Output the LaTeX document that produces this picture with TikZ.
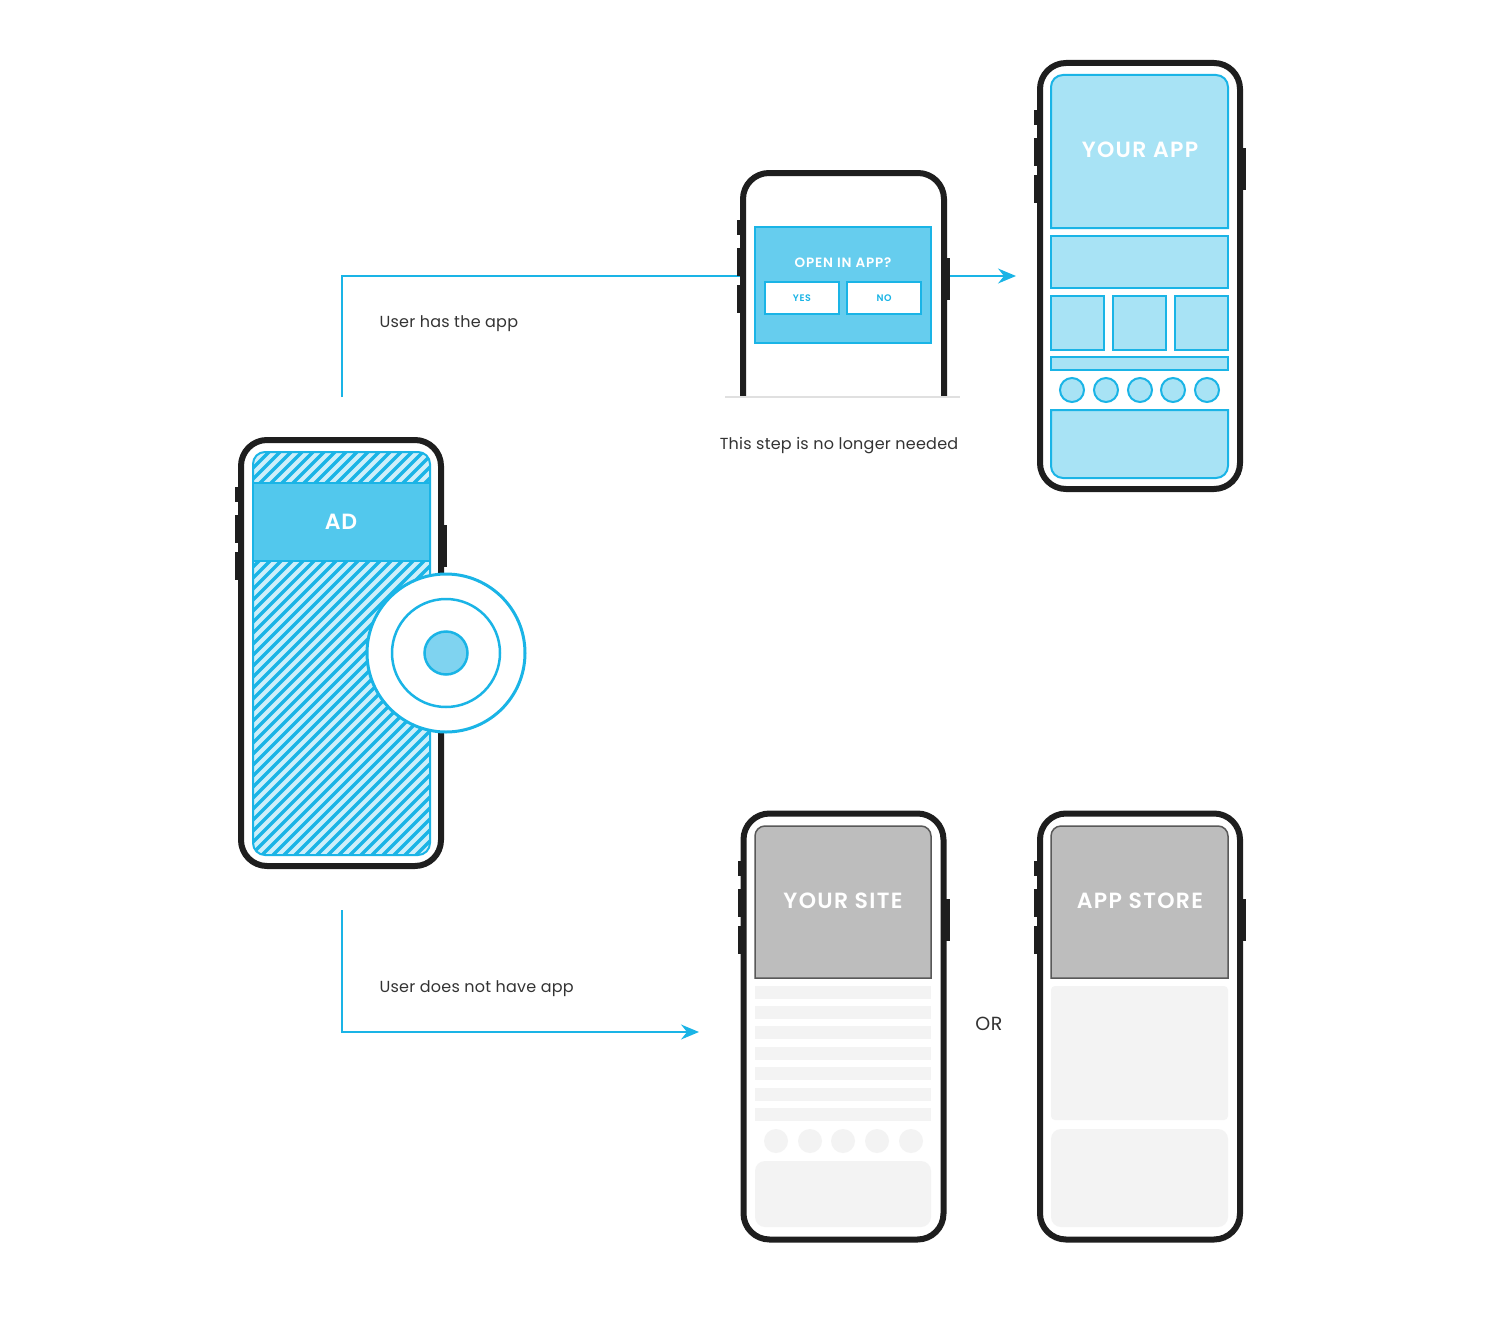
\documentclass[tikz,border=0pt]{standalone}
\usepackage{fontspec}
\setmainfont{Poppins}[BoldFont={Poppins SemiBold}]
\usetikzlibrary{arrows.meta}

\definecolor{phoneblack}{HTML}{1E1E1E}
\definecolor{adblue}{HTML}{1AB4E6}
\definecolor{bandblue}{HTML}{52C8ED}
\definecolor{popblue}{HTML}{66CDEE}
\definecolor{paleblue}{HTML}{A8E3F5}
\definecolor{hatchbg}{HTML}{CDEFFA}
\definecolor{dotblue}{HTML}{7FD3F0}
\definecolor{sitegray}{HTML}{BDBDBD}
\definecolor{ghost}{HTML}{F3F3F3}
\definecolor{labelgray}{HTML}{333333}

\tikzset{
  phonebody/.style={draw=phoneblack, line width=6pt, rounded corners=26pt, fill=white,
    minimum width=200pt, minimum height=426pt, inner sep=0pt},
  flow/.style={draw=adblue, line width=1.6pt, -{Stealth[length=18pt,width=15pt,inset=6pt]}},
  appblock/.style={draw=adblue, line width=2pt, fill=paleblue},
  siteblock/.style={draw=black!65, line width=1.5pt, fill=sitegray},
  ghostblock/.style={fill=ghost},
  caption/.style={text=labelgray, font=\fontsize{16}{19}\selectfont\addfontfeatures{LetterSpace=1.5}},
  screentitle/.style={text=white, font=\fontsize{22}{25}\selectfont\bfseries\addfontfeatures{LetterSpace=6}}
}

% side keys of a phone
\newcommand{\phonekeys}[1]{
  \fill[phoneblack] ([xshift=-3pt,yshift=-50pt]#1.north west) rectangle ++(4pt,-15pt);
  \fill[phoneblack] ([xshift=-3pt,yshift=-78pt]#1.north west) rectangle ++(4pt,-28pt);
  \fill[phoneblack] ([xshift=-3pt,yshift=-115pt]#1.north west) rectangle ++(4pt,-28pt);
  \fill[phoneblack] ([xshift=3pt,yshift=-88pt]#1.north east) rectangle ++(-4pt,-42pt);
}

\begin{document}
\begin{tikzpicture}[x=1pt,y=-1pt]
\useasboundingbox (0,0) rectangle (1505,1322);

% connectors
\coordinate (hasstart) at (342,397);
\coordinate (hasend) at (1016,276);
\coordinate (notstart) at (342,910);
\coordinate (notend) at (699,1032);
\draw[flow] (hasstart) |- (hasend);
\draw[flow] (notstart) |- (notend);

\node[caption, anchor=west] (haslabel) at (376,324) {User has the app};
\node[caption, anchor=west] (notlabel) at (376,989) {User does not have app};
\node[caption] (steplabel) at (839,446) {This step is no longer needed};
\node[caption, font=\fontsize{19}{22}\selectfont\addfontfeatures{LetterSpace=3}] (orlabel) at (989,1024) {OR};

% phone with the ad
\node[phonebody] (adphone) at (341,653) {};
\phonekeys{adphone}
\begin{scope}
  \clip[rounded corners=12pt] (253,452) rectangle (430,855);
  \fill[hatchbg] (253,452) rectangle (430,855);
  \foreach \k in {0,...,56}
    \draw[adblue, line width=3.5pt] (\k*11-170,858) -- ++(425,-425);
\end{scope}
\draw[adblue, line width=2pt, rounded corners=12pt] (253,452) rectangle (430,855);
\draw[adblue, line width=2pt, fill=bandblue] (253,483) rectangle (430,561);
\node[screentitle, font=\fontsize{22}{24}\selectfont\bfseries\addfontfeatures{LetterSpace=4}] (adlabel) at (341,522) {AD};

% tap target
\node[circle, draw=adblue, line width=3pt, fill=white, minimum size=158pt] (tapouter) at (446,653) {};
\node[circle, draw=adblue, line width=2.5pt, minimum size=108pt] (tapring) at (tapouter) {};
\node[circle, draw=adblue, line width=2.5pt, fill=dotblue, minimum size=43pt] (tapdot) at (tapouter) {};

% prompt phone (cut off)
\draw[phoneblack, line width=6pt, fill=white, rounded corners=26pt]
  (743,397) -- (743,173) -- (944,173) -- (944,397);
\fill[phoneblack] (737,220) rectangle (741,235);
\fill[phoneblack] (737,248) rectangle (741,276);
\fill[phoneblack] (737,285) rectangle (741,313);
\fill[phoneblack] (946,258) rectangle (950,300);
\draw[black!12, line width=2pt] (725,397) -- (960,397);
\draw[adblue, line width=2pt, fill=popblue] (755,227) rectangle (931,343);
\node[screentitle, font=\fontsize{13.5}{15}\selectfont\bfseries\addfontfeatures{LetterSpace=6}] (openlabel) at (843,263) {OPEN IN APP?};
\draw[adblue, line width=2pt, fill=white] (765,282) rectangle (839,314);
\draw[adblue, line width=2pt, fill=white] (847,282) rectangle (921,314);
\node[text=adblue, font=\fontsize{9.5}{11}\selectfont\bfseries\addfontfeatures{LetterSpace=6}] (yeslabel) at (802,298) {YES};
\node[text=adblue, font=\fontsize{9.5}{11}\selectfont\bfseries\addfontfeatures{LetterSpace=6}] (nolabel) at (884,298) {NO};

% phone with the app
\node[phonebody] (appphone) at (1140,276) {};
\phonekeys{appphone}
\draw[appblock] (1051,228) {[rounded corners=12pt] -- (1051,75) -- (1228,75)} -- (1228,228) -- cycle;
\node[screentitle] (applabel) at (1140,150) {YOUR APP};
\draw[appblock] (1051,236) rectangle (1228,288);
\foreach \x in {1051,1113,1175}
  \draw[appblock] (\x,296) rectangle ++(53,54);
\draw[appblock] (1051,357) rectangle (1228,370);
\foreach \x in {1072,1106,1140,1173,1207}
  \draw[appblock] (\x,390) circle[radius=12pt];
\draw[appblock] (1051,410) {[rounded corners=12pt] -- (1051,478) -- (1228,478)} -- (1228,410) -- cycle;

% phone with the site
\node[phonebody] (sitephone) at (843.5,1026.5) {};
\phonekeys{sitephone}
\draw[siteblock] (755,978) {[rounded corners=10pt] -- (755,826) -- (931,826)} -- (931,978) -- cycle;
\node[screentitle] (sitelabel) at (843,901) {YOUR SITE};
\foreach \y in {986,1006,1026,1047,1067,1088,1108}
  \fill[ghostblock] (755,\y) rectangle (931,\y+13);
\foreach \x in {776,810,843,877,911}
  \fill[ghostblock] (\x,1141) circle[radius=12pt];
\fill[ghostblock, rounded corners=10pt] (755,1161) rectangle (931,1227);

% phone with the store
\node[phonebody] (storephone) at (1140,1026.5) {};
\phonekeys{storephone}
\draw[siteblock] (1051,978) {[rounded corners=10pt] -- (1051,826) -- (1228,826)} -- (1228,978) -- cycle;
\node[screentitle] (storelabel) at (1140,901) {APP STORE};
\fill[ghostblock, rounded corners=4pt] (1051,986) rectangle (1228,1120);
\fill[ghostblock, rounded corners=10pt] (1051,1129) rectangle (1228,1227);

\end{tikzpicture}
\end{document}
